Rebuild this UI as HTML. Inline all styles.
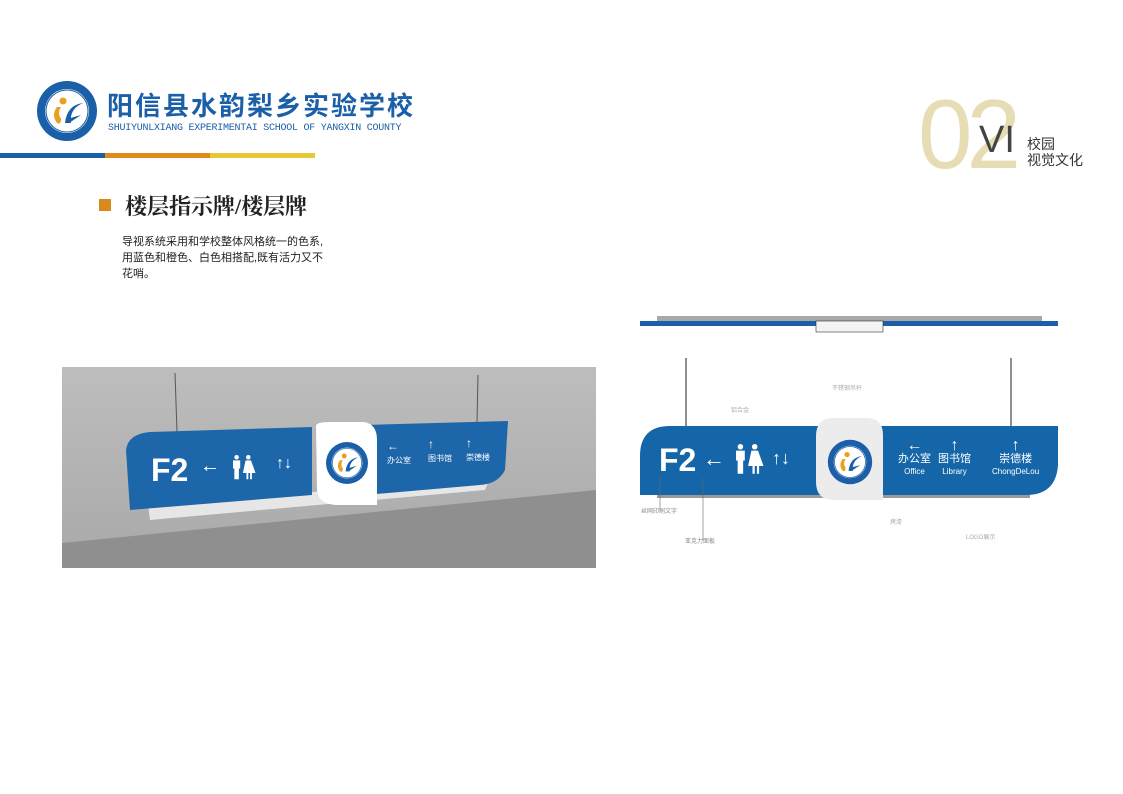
<!DOCTYPE html>
<html><head><meta charset="utf-8"><style>
body{margin:0;width:1123px;height:794px;background:#fff;position:relative;overflow:hidden;font-family:"Liberation Sans","Noto Sans CJK SC",sans-serif}
.a{position:absolute;white-space:nowrap}
</style></head><body>
<svg width="1123" height="794" style="position:absolute;left:0;top:0">
<defs>
<g id="logo">
<circle r="30" fill="#1a5fa8"/><circle r="22" fill="#fff"/><circle r="21" fill="none" stroke="#1a5fa8" stroke-width="1"/>
<path d="M-10,-4 q-6,8 0,16 q4,2 4,-4 q-4,-6 0,-12z" fill="#e8a020"/>
<circle cx="-4" cy="-10" r="3.5" fill="#e8a020"/>
<path d="M-2,12 q2,-18 18,-20 q-14,6 -12,20z" fill="#1a5fa8"/>
<path d="M0,8 l14,-4 l-12,8z" fill="#1a5fa8"/>
</g>
<g id="wc" fill="#fff">
<circle cx="4" cy="2.5" r="2.5"/><path d="M0,6 h8 v9 h-1.5 v12 h-5 v-12 h-1.5z"/>
<circle cx="17" cy="2.5" r="2.5"/><path d="M14,6 h6 l5,14 h-4 v7 h-2 v-7 h-2 v7 h-2 v-7 h-4z"/>
</g>
<linearGradient id="wall" x1="0" y1="0" x2="0" y2="1"><stop offset="0" stop-color="#bdbdbd"/><stop offset="1" stop-color="#a9a9a9"/></linearGradient>
</defs>
<use href="#logo" x="67" y="111"/>
<rect x="0" y="153" width="105" height="5" fill="#1a5fa8"/>
<rect x="105" y="153" width="105" height="5" fill="#e08a1e"/>
<rect x="210" y="153" width="105" height="5" fill="#e8c832"/>
<rect x="99" y="199" width="12" height="12" fill="#d98a1e"/>
<!-- photo -->
<rect x="62" y="367" width="534" height="201" fill="url(#wall)"/>
<polygon points="62,543 596,490 596,568 62,568" fill="#8f8f8f"/>
<line x1="175" y1="373" x2="177" y2="432" stroke="#555" stroke-width="1"/>
<line x1="478" y1="375" x2="477" y2="423" stroke="#555" stroke-width="1"/>
<polygon points="148,505 490,478 485,490 150,520" fill="#e6e6e6"/>
<path d="M150,432 L312,427 L312,495 L130,510 L126,450 Q128,434 150,432Z" fill="#1e66aa"/>
<path d="M365,425 L508,421 L505,470 Q498,484 480,485 L365,495Z" fill="#1e66aa"/>
<path d="M316,426 Q316,422 330,422 L364,422 Q377,424 377,440 L377,505 L336,505 Q318,504 317,490Z" fill="#fff"/>
<use href="#logo" transform="translate(347 463) scale(0.7)"/>
<use href="#wc" transform="translate(233 455) scale(0.9)"/>
<!-- diagram -->
<rect x="657" y="316" width="385" height="5" fill="#a8a8a8"/>
<rect x="640" y="321" width="418" height="5" fill="#1a5fa8"/>
<rect x="816" y="321" width="67" height="11" fill="#f4f4f4" stroke="#333" stroke-width="0.6"/>
<line x1="686" y1="358" x2="686" y2="427" stroke="#444" stroke-width="1.2"/>
<line x1="1011" y1="358" x2="1011" y2="427" stroke="#444" stroke-width="1.2"/>
<rect x="657" y="493" width="373" height="5" fill="#9a9a9a"/>
<path d="M670,426 L1058,426 L1058,465 Q1056,495 1026,495 L640,495 L640,456 Q640,426 670,426Z" fill="#1466a8"/>
<path d="M834,418 L866,418 Q883,418 883,435 L883,500 L834,500 Q816,500 816,482 L816,436 Q816,418 834,418Z" fill="#ececec"/>
<use href="#logo" transform="translate(850 462) scale(0.74)"/>
<use href="#wc" transform="translate(736 444) scale(1.1)"/>
<line x1="660" y1="475" x2="660" y2="510" stroke="#666" stroke-width="0.6"/>
<line x1="703" y1="478" x2="703" y2="540" stroke="#666" stroke-width="0.6"/>
</svg>
<div class="a" style="left:107px;top:86px;font-size:26px;font-weight:bold;color:#1a5fa8;letter-spacing:2px">阳信县水韵梨乡实验学校</div>
<div class="a" style="left:108px;top:123px;font-size:10px;color:#1a5fa8;font-family:'Liberation Mono',monospace;letter-spacing:-0.25px">SHUIYUNLXIANG EXPERIMENTAI SCHOOL OF YANGXIN COUNTY</div>
<div class="a" style="left:125px;top:190px;font-size:22px;font-weight:bold;color:#222;font-family:'Liberation Serif','Noto Serif CJK SC',serif">楼层指示牌/楼层牌</div>
<div class="a" style="left:122px;top:234px;font-size:11px;line-height:16px;color:#222">导视系统采用和学校整体风格统一的色系,<br>用蓝色和橙色、白色相搭配,既有活力又不<br>花哨。</div>
<div class="a" style="left:918px;top:78px;font-size:98px;color:#e6ddb5;letter-spacing:-6px;font-family:'Liberation Sans',sans-serif">02</div>
<div class="a" style="left:979px;top:119px;font-size:38px;color:#444">VI</div>
<div class="a" style="left:1027px;top:136px;font-size:14px;line-height:16px;color:#333">校园<br>视觉文化</div>
<!-- photo sign text -->
<div class="a" style="left:151px;top:452px;font-size:32px;font-weight:bold;color:#fff">F2</div>
<div class="a" style="left:200px;top:455px;font-size:20px;color:#fff;font-weight:bold">←</div>
<div class="a" style="left:276px;top:455px;font-size:16px;color:#fff;font-weight:bold">↑↓</div>
<div class="a" style="left:387px;top:440px;font-size:12px;color:#fff;line-height:13px">←<br><span style="font-size:8px">办公室</span></div>
<div class="a" style="left:428px;top:438px;font-size:12px;color:#fff;line-height:13px">↑<br><span style="font-size:8px">图书馆</span></div>
<div class="a" style="left:466px;top:437px;font-size:12px;color:#fff;line-height:13px">↑<br><span style="font-size:8px">崇德楼</span></div>
<!-- diagram text -->
<div class="a" style="left:659px;top:442px;font-size:32px;font-weight:bold;color:#fff">F2</div>
<div class="a" style="left:703px;top:446px;font-size:22px;color:#fff;font-weight:bold">←</div>
<div class="a" style="left:772px;top:448px;font-size:18px;color:#fff;font-weight:bold">↑↓</div>
<div class="a" style="left:898px;top:440px;font-size:11px;color:#fff;line-height:12px;text-align:center"><span style="font-size:16px">←</span><br>办公室<br><span style="font-size:8px">Office</span></div>
<div class="a" style="left:938px;top:440px;font-size:11px;color:#fff;line-height:12px;text-align:center"><span style="font-size:16px">↑</span><br>图书馆<br><span style="font-size:8px">Library</span></div>
<div class="a" style="left:992px;top:440px;font-size:11px;color:#fff;line-height:12px;text-align:center"><span style="font-size:16px">↑</span><br>崇德楼<br><span style="font-size:8px">ChongDeLou</span></div>
<div class="a" style="left:832px;top:383px;font-size:6px;color:#aaa">不锈钢吊杆</div>
<div class="a" style="left:731px;top:405px;font-size:6px;color:#aaa">铝合金</div>
<div class="a" style="left:641px;top:506px;font-size:6px;color:#888">丝网印刷文字</div>
<div class="a" style="left:685px;top:536px;font-size:6px;color:#888">亚克力面板</div>
<div class="a" style="left:890px;top:517px;font-size:6px;color:#aaa">烤漆</div>
<div class="a" style="left:966px;top:532px;font-size:6px;color:#aaa">LOGO展示</div>
</body></html>
